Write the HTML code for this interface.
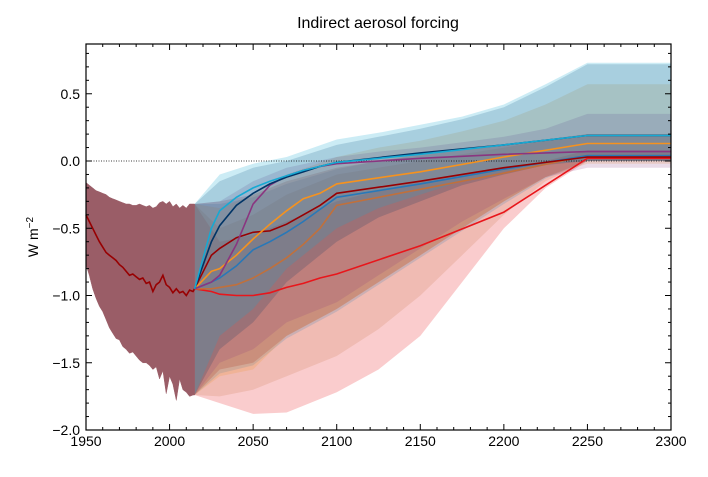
<!DOCTYPE html>
<html><head><meta charset="utf-8"><style>
body{margin:0;background:#fff;font-family:"Liberation Sans",Arial,sans-serif}
svg text{font-family:"Liberation Sans",Arial,sans-serif}
</style></head><body>
<svg id="chart" width="708" height="472" viewBox="0 0 708 472" xmlns="http://www.w3.org/2000/svg">
<text x="378" y="28" font-size="16" text-anchor="middle">Indirect aerosol forcing</text>
<text transform="translate(38,237) rotate(-90)" font-size="14" text-anchor="middle">W m<tspan baseline-shift="super" font-size="10">−2</tspan></text>
<g id="plot"></g>
</svg>
<script>
const histYears=[1950,1952,1954,1956,1958,1960,1962,1964,1966,1968,1970,1972,1974,1976,1978,1980,1982,1984,1986,1988,1990,1992,1994,1996,1998,2000,2002,2004,2006,2008,2010,2012,2014,2015];
const histMid=[-0.40,-0.45,-0.50,-0.55,-0.60,-0.64,-0.68,-0.70,-0.72,-0.74,-0.77,-0.79,-0.82,-0.85,-0.84,-0.86,-0.88,-0.87,-0.91,-0.90,-0.97,-0.92,-0.90,-0.85,-0.92,-0.94,-0.98,-0.95,-0.98,-0.97,-1.00,-0.96,-0.97,-0.95];
const histHi=[-0.16,-0.18,-0.20,-0.22,-0.23,-0.24,-0.25,-0.27,-0.28,-0.29,-0.30,-0.31,-0.32,-0.32,-0.33,-0.33,-0.32,-0.33,-0.34,-0.33,-0.35,-0.34,-0.31,-0.30,-0.32,-0.30,-0.34,-0.32,-0.35,-0.33,-0.35,-0.32,-0.32,-0.32];
const histLo=[-0.77,-0.85,-0.95,-1.02,-1.08,-1.12,-1.18,-1.24,-1.28,-1.32,-1.33,-1.38,-1.40,-1.43,-1.42,-1.45,-1.48,-1.50,-1.50,-1.52,-1.55,-1.53,-1.62,-1.56,-1.73,-1.60,-1.66,-1.78,-1.62,-1.70,-1.72,-1.75,-1.74,-1.74];
const scenYears=[2015,2025,2030,2040,2050,2060,2070,2080,2090,2100,2150,2200,2250,2300];
const bandYears=[2015,2030,2050,2070,2100,2125,2150,2175,2200,2225,2250,2300];
const scenNames=['red','brown','blue','darkred','orange','purple','navy','cyan'];
const scenColors={red:'#e8161b',brown:'#c0703c',blue:'#2878b8',darkred:'#980002',orange:'#f6921e',purple:'#8a3580',navy:'#003466',cyan:'#16a9d3'};
const scenMid={
cyan:[-0.95,-0.50,-0.37,-0.27,-0.20,-0.15,-0.11,-0.07,-0.04,-0.01,0.05,0.12,0.19,0.19],
navy:[-0.95,-0.60,-0.48,-0.33,-0.24,-0.17,-0.12,-0.08,-0.04,-0.01,0.06,0.12,0.19,0.19],
purple:[-0.95,-0.90,-0.85,-0.62,-0.32,-0.18,-0.11,-0.07,-0.04,-0.02,0.02,0.05,0.07,0.07],
orange:[-0.95,-0.82,-0.80,-0.70,-0.58,-0.47,-0.37,-0.28,-0.24,-0.17,-0.08,0.03,0.13,0.13],
darkred:[-0.95,-0.70,-0.65,-0.57,-0.53,-0.52,-0.47,-0.40,-0.33,-0.24,-0.15,-0.05,0.03,0.03],
blue:[-0.95,-0.90,-0.87,-0.78,-0.66,-0.60,-0.53,-0.45,-0.36,-0.27,-0.17,-0.06,0.04,0.04],
brown:[-0.95,-0.95,-0.94,-0.92,-0.87,-0.80,-0.72,-0.62,-0.50,-0.33,-0.21,-0.09,0.04,0.04],
red:[-0.95,-0.97,-0.99,-1.00,-1.00,-0.98,-0.94,-0.91,-0.87,-0.84,-0.63,-0.38,0.02,0.02]};
const bandHi={
cyan:[-0.32,-0.10,-0.02,0.03,0.16,0.21,0.27,0.33,0.42,0.57,0.73,0.73],
navy:[-0.32,-0.15,-0.05,0.00,0.12,0.18,0.24,0.31,0.40,0.55,0.72,0.72],
purple:[-0.32,-0.30,-0.15,-0.05,0.03,0.07,0.10,0.14,0.18,0.24,0.35,0.35],
orange:[-0.32,-0.35,-0.25,-0.10,0.03,0.10,0.15,0.22,0.30,0.42,0.57,0.57],
darkred:[-0.32,-0.30,-0.25,-0.15,-0.05,0.00,0.05,0.08,0.12,0.16,0.20,0.20],
blue:[-0.32,-0.32,-0.27,-0.17,-0.06,0.00,0.04,0.08,0.12,0.16,0.20,0.20],
brown:[-0.32,-0.50,-0.40,-0.25,-0.10,-0.05,0.00,0.05,0.10,0.15,0.20,0.20],
red:[-0.32,-0.60,-0.55,-0.45,-0.30,-0.22,-0.15,-0.10,-0.05,0.00,0.08,0.08]};
const bandLo={
cyan:[-1.74,-1.30,-1.10,-0.80,-0.50,-0.35,-0.25,-0.15,-0.08,-0.02,0.00,0.00],
navy:[-1.74,-1.40,-1.20,-0.90,-0.60,-0.42,-0.30,-0.18,-0.10,-0.03,0.00,0.00],
purple:[-1.74,-1.50,-1.40,-1.20,-1.05,-0.85,-0.65,-0.45,-0.28,-0.12,-0.05,-0.05],
orange:[-1.74,-1.60,-1.55,-1.30,-1.10,-0.90,-0.70,-0.50,-0.30,-0.12,-0.02,-0.02],
darkred:[-1.74,-1.55,-1.50,-1.30,-1.10,-0.90,-0.70,-0.50,-0.30,-0.12,0.00,0.00],
blue:[-1.74,-1.58,-1.52,-1.32,-1.12,-0.92,-0.72,-0.52,-0.32,-0.13,0.00,0.00],
brown:[-1.74,-1.75,-1.70,-1.60,-1.45,-1.25,-1.00,-0.70,-0.40,-0.15,0.00,0.00],
red:[-1.74,-1.80,-1.88,-1.87,-1.72,-1.55,-1.30,-0.90,-0.50,-0.20,0.00,0.00]};
const xTicks=[1950,2000,2050,2100,2150,2200,2250,2300];
const yTicks=[0.5,0.0,-0.5,-1.0,-1.5,-2.0];
const yTickLabels=['0.5','0.0','−0.5','−1.0','−1.5','−2.0'];

const L=86,R=671,T=44,B=430, xMin=1950,xMax=2300,yMin=-2.0,yMax=0.87;
const xs=v=>L+(v-xMin)/(xMax-xMin)*(R-L);
const ys=v=>B-(v-yMin)/(yMax-yMin)*(B-T);
const NS='http://www.w3.org/2000/svg';
const g=document.getElementById('plot');
function mk(tag,attrs){const e=document.createElementNS(NS,tag);for(const k in attrs)e.setAttribute(k,attrs[k]);g.appendChild(e);return e;}
function bandPath(xa,lo,hi){let d='M'+xa.map((x,i)=>xs(x).toFixed(1)+','+ys(hi[i]).toFixed(1)).join('L');
for(let i=xa.length-1;i>=0;i--)d+='L'+xs(xa[i]).toFixed(1)+','+ys(lo[i]).toFixed(1);return d+'Z';}
function linePath(xa,v){return 'M'+xa.map((x,i)=>xs(x).toFixed(1)+','+ys(v[i]).toFixed(1)).join('L');}

scenNames.forEach(n=>{
 const e=mk('path',{d:bandPath(bandYears,bandLo[n],bandHi[n]),fill:scenColors[n],'fill-opacity':(n==='cyan'||n==='red')?0.22:0.18,stroke:'none'});
 
 
});
const hb=mk('path',{d:bandPath(histYears,histLo,histHi),fill:'#9a5d67',stroke:'#9a5d67','stroke-width':0.5});


const z=mk('line',{x1:L,x2:R,y1:ys(0),y2:ys(0),stroke:'#000','stroke-width':0.8,'stroke-dasharray':'1,1.5'});


const hl=mk('path',{d:linePath(histYears,histMid),fill:'none',stroke:'#980002','stroke-width':1.6});


scenNames.forEach(n=>{
 const e=mk('path',{d:linePath(scenYears,scenMid[n]),fill:'none',stroke:scenColors[n],'stroke-width':1.6});
 
 
});
const fr=mk('rect',{x:L,y:T,width:R-L,height:B-T,fill:'none',stroke:'#000','stroke-width':1.2});


for(let yr=1950;yr<=2300;yr+=10){const maj=yr%50===0,len=maj?6:3,x=xs(yr);
 mk('line',{x1:x,x2:x,y1:B,y2:B-len,stroke:'#000','stroke-width':1});
 mk('line',{x1:x,x2:x,y1:T,y2:T+len,stroke:'#000','stroke-width':1});}
for(let k=-20;k<=8;k++){const v=k/10,maj=k%5===0,len=maj?6:3,y=ys(v);
 mk('line',{x1:L,x2:L+len,y1:y,y2:y,stroke:'#000','stroke-width':1});
 mk('line',{x1:R,x2:R-len,y1:y,y2:y,stroke:'#000','stroke-width':1});}
xTicks.forEach(t=>{const e=mk('text',{x:xs(t),y:B+16,'font-size':14,'text-anchor':'middle'});e.textContent=t;
 
 });
yTicks.forEach((t,i)=>{const e=mk('text',{x:L-6,y:ys(t)+5,'font-size':14,'text-anchor':'end'});e.textContent=yTickLabels[i];
 
 });
</script>
</body></html>
